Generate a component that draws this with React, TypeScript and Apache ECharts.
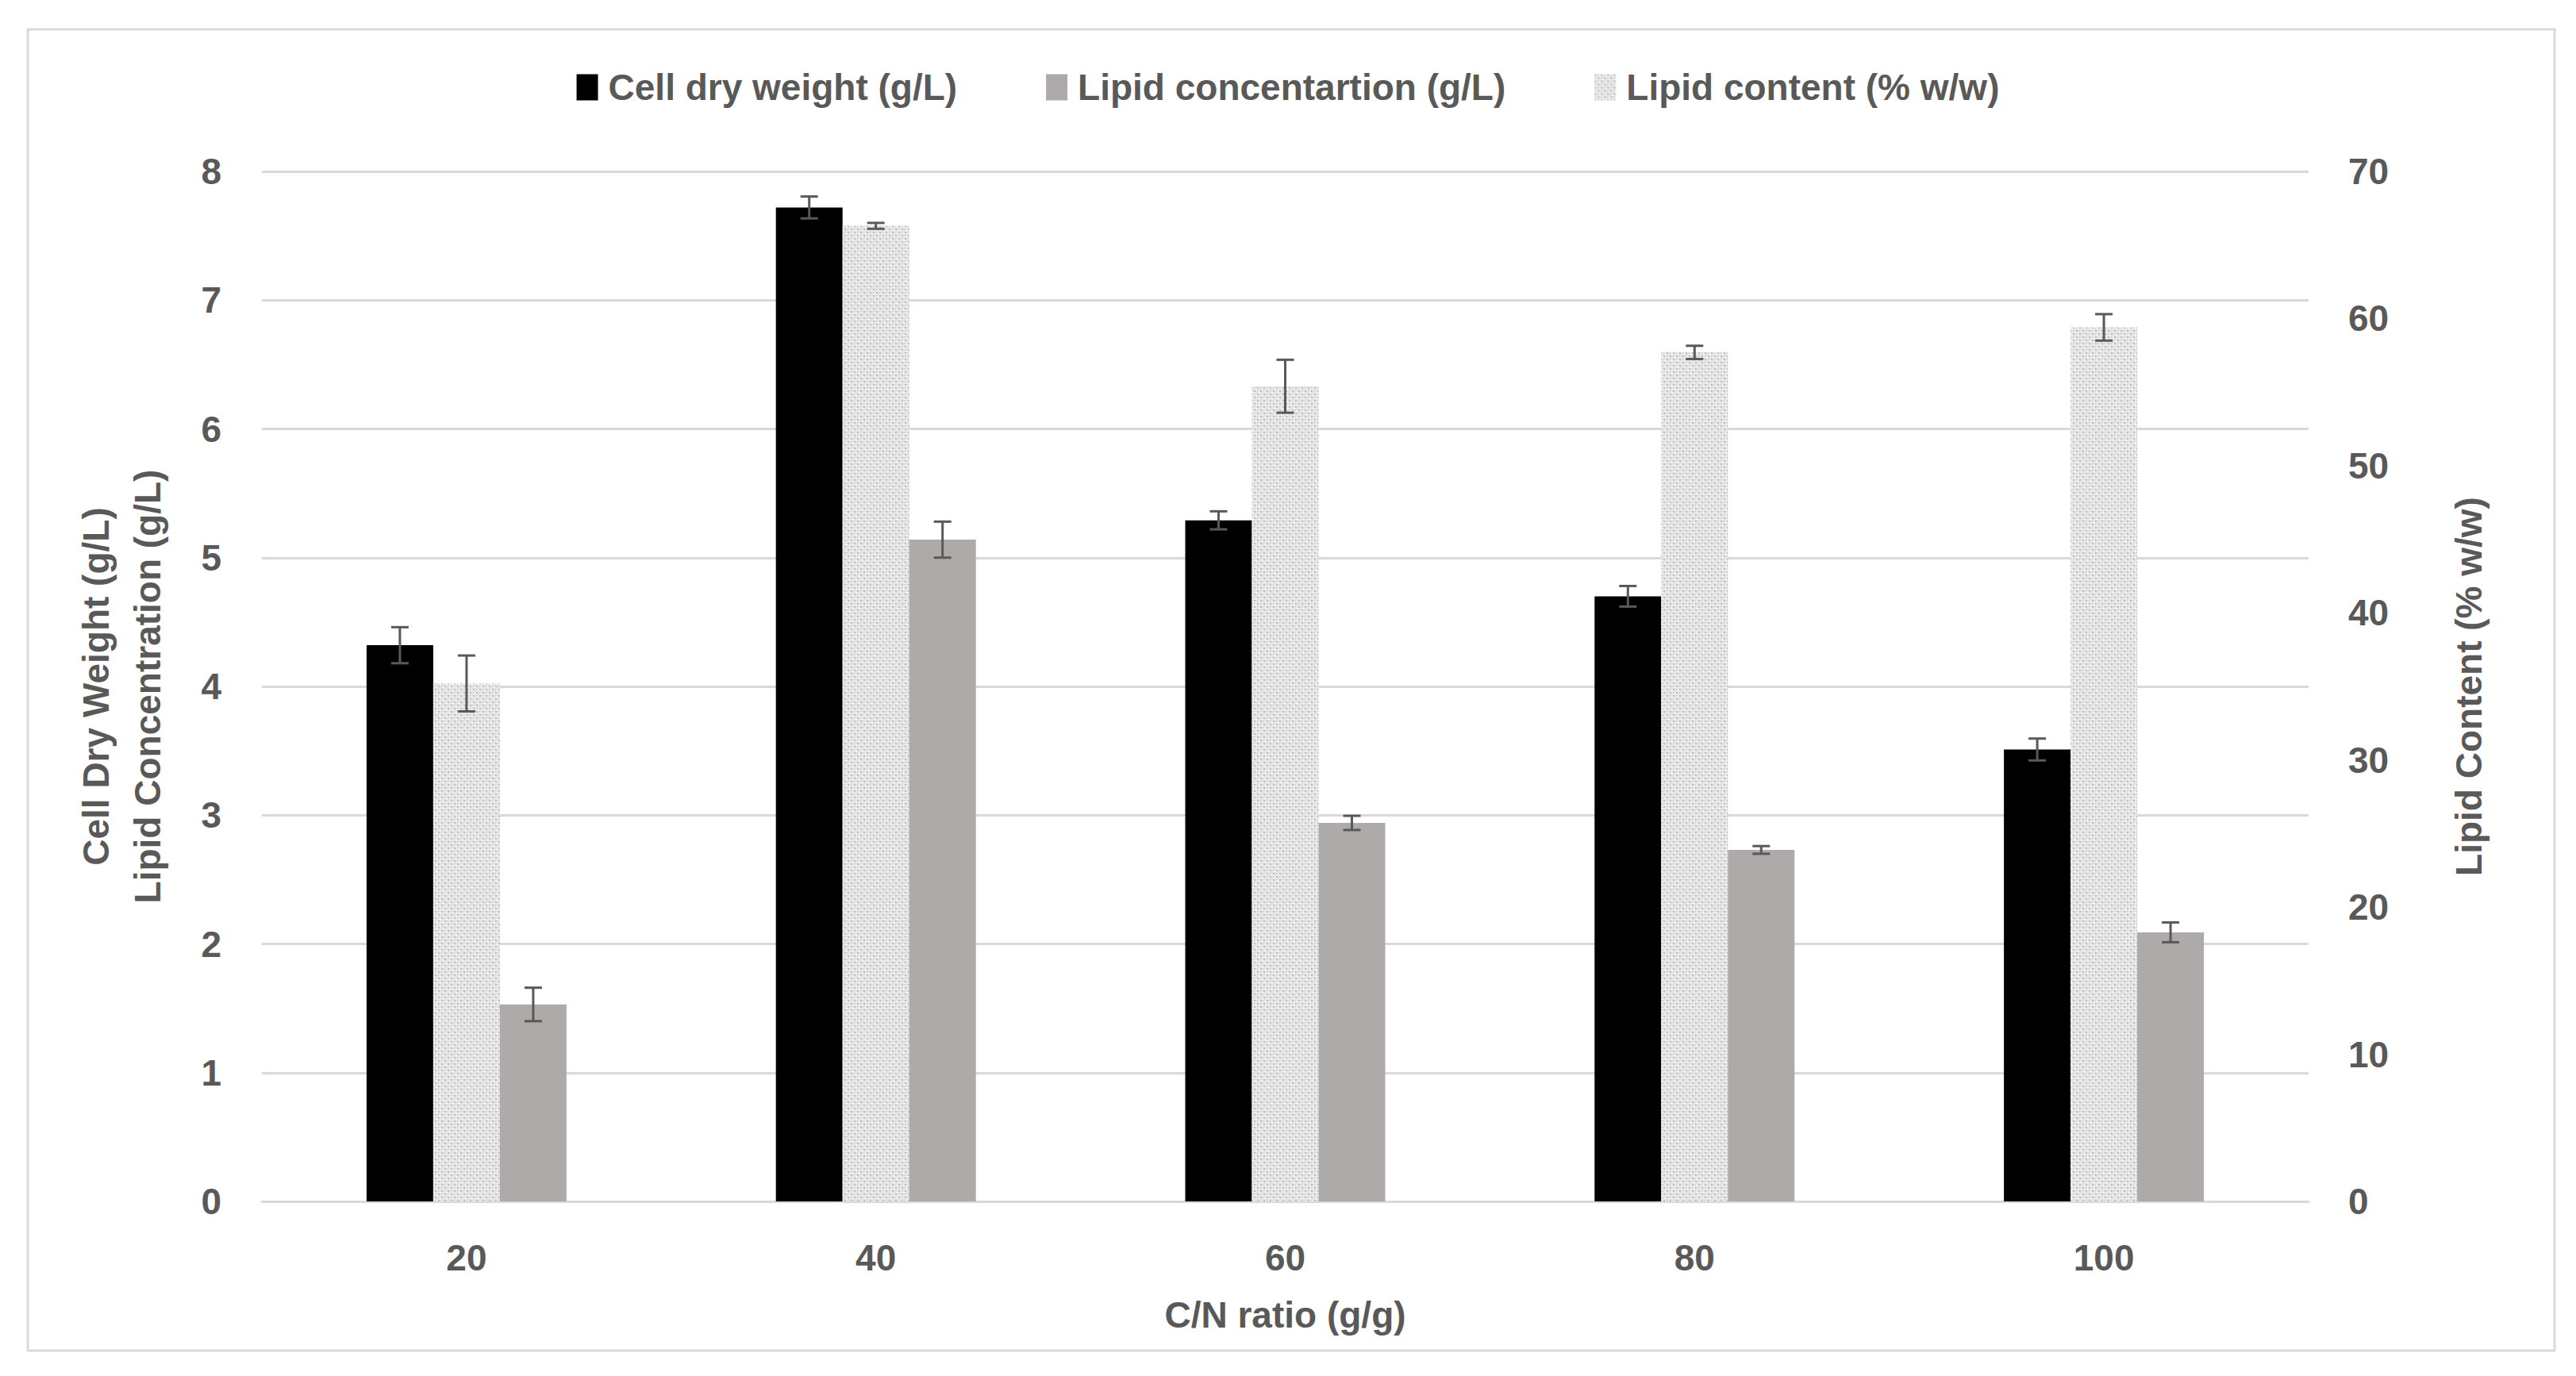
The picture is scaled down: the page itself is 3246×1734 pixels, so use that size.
import React, { useEffect, useRef } from "react";
import * as echarts from "echarts";

const categories = ["20", "40", "60", "80", "100"];
const seriesNames = ["Cell dry weight (g/L)", "Lipid concentartion (g/L)", "Lipid content (% w/w)"];
const cellDryWeight = [4.32, 7.72, 5.29, 4.7, 3.51];
const cellDryWeightErr = [0.14, 0.085, 0.07, 0.08, 0.085];
const lipidConc = [1.53, 5.14, 2.94, 2.73, 2.09];
const lipidConcErr = [0.13, 0.14, 0.055, 0.03, 0.077];
const lipidContent = [35.2, 66.3, 55.4, 57.7, 59.4];
const lipidContentErr = [1.9, 0.2, 1.8, 0.45, 0.9];
const leftAxis = { min: 0, max: 8, interval: 1 };
const rightAxis = { min: 0, max: 70, interval: 10 };

const FONT = "'Liberation Sans', Arial, sans-serif";
const TXT = "#595959";
const GRID_C = "#d9d9d9";
const BAR_W = 84;

function makeDots() {
  const c = document.createElement("canvas");
  c.width = 8;
  c.height = 8;
  const g = c.getContext("2d")!;
  g.fillStyle = "#e6e6e6";
  g.fillRect(0, 0, 8, 8);
  g.fillStyle = "#bdbdbd";
  g.fillRect(0, 0, 2, 2);
  g.fillRect(4, 4, 2, 2);
  g.fillRect(4, 0, 1, 1);
  g.fillRect(0, 4, 1, 1);
  g.fillStyle = "#ffffff";
  g.fillRect(2, 6, 2, 1);
  g.fillRect(6, 2, 2, 1);
  return c;
}

function errSeries(values: number[], errs: number[], yAxisIndex: number, slot: number) {
  return {
    type: "custom",
    xAxisIndex: 0,
    yAxisIndex,
    z: 5,
    silent: true,
    encode: { x: 0, y: [1, 2] },
    data: values.map((v, i) => [i, v - errs[i], v + errs[i]]),
    renderItem: (_p: any, api: any) => {
      const lo = api.coord([api.value(0), api.value(1)]);
      const hi = api.coord([api.value(0), api.value(2)]);
      const x = lo[0] + (slot - 1) * BAR_W;
      const cap = 11;
      const style = { stroke: "#595959", lineWidth: 3 };
      return {
        type: "group",
        children: [
          { type: "line", shape: { x1: x, y1: lo[1], x2: x, y2: hi[1] }, style },
          { type: "line", shape: { x1: x - cap, y1: lo[1], x2: x + cap, y2: lo[1] }, style },
          { type: "line", shape: { x1: x - cap, y1: hi[1], x2: x + cap, y2: hi[1] }, style },
        ],
      };
    },
  };
}

export default function App() {
  const ref = useRef<HTMLDivElement>(null);
  useEffect(() => {
    document.body.style.margin = "0";
    const chart = echarts.init(ref.current!, undefined, { renderer: "svg" });
    const dots = makeDots();
    const pattern: any = { image: dots, repeat: "repeat", imageWidth: 8, imageHeight: 8 };
    const axisLabel = { color: TXT, fontSize: 46, fontWeight: "bold", fontFamily: FONT };
    chart.setOption({
      animation: false,
      backgroundColor: "#ffffff",
      textStyle: { fontFamily: FONT },
      graphic: [
        {
          type: "rect",
          shape: { x: 35, y: 37, width: 3184, height: 1665 },
          style: { fill: "none", stroke: GRID_C, lineWidth: 3 },
          silent: true,
        },
      ],
      legend: {
        data: seriesNames,
        icon: "rect",
        left: "center",
        top: 82,
        itemWidth: 27,
        itemHeight: 33,
        itemGap: 112,
        textStyle: { color: TXT, fontSize: 46, fontWeight: "bold", fontFamily: FONT, padding: [0, 0, 0, 8] },
      },
      grid: { left: 330, right: 337, top: 216, bottom: 220, containLabel: false },
      xAxis: {
        type: "category",
        data: categories,
        axisLine: { show: true, lineStyle: { color: GRID_C, width: 3 } },
        axisTick: { show: false },
        axisLabel: { ...axisLabel, margin: 48 },
        name: "C/N ratio (g/g)",
        nameLocation: "middle",
        nameGap: 120,
        nameTextStyle: { color: TXT, fontSize: 46, fontWeight: "bold", fontFamily: FONT },
      },
      yAxis: [
        {
          type: "value",
          ...leftAxis,
          axisLine: { show: false },
          axisTick: { show: false },
          axisLabel: { ...axisLabel, margin: 51 },
          splitLine: { lineStyle: { color: GRID_C, width: 3 } },
          name: "Cell Dry Weight (g/L)\nLipid Concentration (g/L)",
          nameLocation: "middle",
          nameRotate: 90,
          nameGap: 112,
          nameTextStyle: { color: TXT, fontSize: 46, fontWeight: "bold", fontFamily: FONT, lineHeight: 65 },
        },
        {
          type: "value",
          position: "right",
          ...rightAxis,
          axisLine: { show: false },
          axisTick: { show: false },
          axisLabel: { ...axisLabel, margin: 50 },
          splitLine: { show: false },
          name: "Lipid Content (% w/w)",
          nameLocation: "middle",
          nameRotate: 90,
          nameGap: 179,
          nameTextStyle: { color: TXT, fontSize: 46, fontWeight: "bold", fontFamily: FONT },
        },
      ],
      series: [
        {
          name: seriesNames[0],
          type: "bar",
          yAxisIndex: 0,
          data: cellDryWeight,
          barWidth: BAR_W,
          barGap: "0%",
          itemStyle: { color: "#000000" },
        },
        {
          name: seriesNames[2],
          type: "bar",
          yAxisIndex: 1,
          data: lipidContent,
          barWidth: BAR_W,
          barGap: "0%",
          itemStyle: { color: pattern },
        },
        {
          name: seriesNames[1],
          type: "bar",
          yAxisIndex: 0,
          data: lipidConc,
          barWidth: BAR_W,
          barGap: "0%",
          itemStyle: { color: "#aeaaaa" },
        },
        errSeries(cellDryWeight, cellDryWeightErr, 0, 0),
        errSeries(lipidContent, lipidContentErr, 1, 1),
        errSeries(lipidConc, lipidConcErr, 0, 2),
      ],
    });
    return () => chart.dispose();
  }, []);
  return <div ref={ref} style={{ width: 3246, height: 1734 }} />;
}
